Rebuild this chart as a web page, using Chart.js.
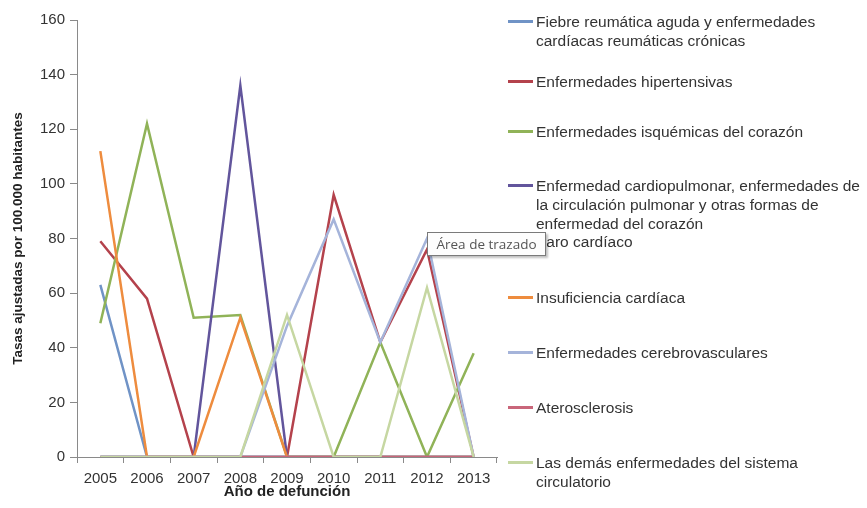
<!DOCTYPE html>
<html>
<head>
<meta charset="utf-8">
<script src="https://cdn.jsdelivr.net/npm/chart.js@4.4.0/dist/chart.umd.min.js"></script>
<style>
  html, body { margin: 0; padding: 0; background: #fff; }
  #wrap { position: relative; width: 867px; height: 508px; overflow: hidden; }
  #chart { position: absolute; left: 0; top: 0; }
  .item { position: absolute; left: 508px; font-family: "Liberation Sans", Arial, sans-serif;
          font-size: 15.5px; line-height: 19px; color: #333; white-space: pre-line; }
  .item .mark { position: absolute; left: 0; top: 8px; width: 25px; height: 3px; }
  .item .txt { margin-left: 28px; }
  #hint { position: absolute; left: 427px; top: 232px; width: 117px; height: 22px;
          border: 1px solid #7a7a7a; background: #fdfdfd; box-shadow: 2px 2px 2px rgba(0,0,0,0.25);
          font-family: "Open Sans", "DejaVu Sans", sans-serif; font-size: 13.5px; color: #555;
          line-height: 22px; text-align: center; }
</style>
</head>
<body>
<div id="wrap">
  <canvas id="chart" width="867" height="508"></canvas>
  <div id="legend"></div>
  <div id="hint">Área de trazado</div>
</div>
<script>
// Años y series (tasas ajustadas por 100.000 habitantes)
const years = ['2005', '2006', '2007', '2008', '2009', '2010', '2011', '2012', '2013'];
const fiebre = [63, 0, 0, 0, 0, 0, 0, 0, 0];
const hipertensivas = [79, 58, 0, 0, 0, 96, 42, 76, 0];
const isquemicas = [49, 122, 51, 52, 0, 0, 42, 0, 38];
const cardiopulmonar = [0, 0, 0, 136, 0, 0, 0, 0, 0];
const paro = [0, 0, 0, 0, 0, 0, 0, 0, 0];
const insuficiencia = [112, 0, 0, 51, 0, 0, 0, 0, 0];
const cerebro = [0, 0, 0, 0, 48, 87, 42, 80, 0];
const ateros = [0, 0, 0, 0, 0, 0, 0, 0, 0];
const demas = [0, 0, 0, 0, 52, 0, 0, 62, 0];
const yTicks = [0, 20, 40, 60, 80, 100, 120, 140, 160];

const seriesNames = [
    'Fiebre reumática aguda y enfermedades\ncardíacas reumáticas crónicas',
    'Enfermedades hipertensivas',
    'Enfermedades isquémicas del corazón',
    'Enfermedad cardiopulmonar, enfermedades de\nla circulación pulmonar y otras formas de\nenfermedad del corazón',
    'Paro cardíaco',
    'Insuficiencia cardíaca',
    'Enfermedades cerebrovasculares',
    'Aterosclerosis',
    'Las demás enfermedades del sistema\ncirculatorio'
];
const seriesData = [fiebre, hipertensivas, isquemicas, cardiopulmonar, paro, insuficiencia, cerebro, ateros, demas];
const colors = ['#7093c6', '#b4424c', '#90b358', '#62559c', '#4bacc6', '#ee8c3e', '#a5b4da', '#c9667a', '#c6d7a2'];
const legendTops = [12, 72, 122, 176, 232, 288, 343, 398, 453];

Chart.defaults.font.family = '"Liberation Sans", Arial, sans-serif';
Chart.defaults.color = '#333';

const axisGrey = '#8a8a8a';

new Chart(document.getElementById('chart'), {
    type: 'line',
    data: {
        labels: years,
        datasets: seriesData.map(function(d, i) {
            return {
                label: seriesNames[i].replace(/\n/g, ' '),
                data: d,
                borderColor: colors[i],
                backgroundColor: colors[i],
                borderWidth: 2.5,
                pointRadius: 0,
                tension: 0,
                order: seriesData.length - i
            };
        })
    },
    options: {
        responsive: false,
        devicePixelRatio: 1,
        animation: false,
        layout: { padding: { top: 20, right: 370, bottom: 0, left: 0 } },
        plugins: { legend: { display: false }, tooltip: { enabled: false } },
        scales: {
            x: {
                offset: true,
                afterFit: function(s) { s.height = 51; },
                grid: { offset: true, drawOnChartArea: false, drawTicks: true, tickLength: 6, color: axisGrey },
                border: { display: true, color: axisGrey, width: 1 },
                ticks: { padding: 7, font: { size: 15 }, color: '#333' },
                title: { display: true, text: 'Año de defunción', font: { size: 15, weight: 'bold' },
                         color: '#222', padding: { top: 0, bottom: 7 } }
            },
            y: {
                min: 0,
                max: 160,
                afterFit: function(s) { s.width = 77; },
                afterBuildTicks: function(s) { s.ticks = yTicks.map(function(v) { return { value: v }; }); },
                grid: { drawOnChartArea: false, drawTicks: true, tickLength: 7, color: axisGrey },
                border: { display: true, color: axisGrey, width: 1 },
                ticks: { padding: 5, font: { size: 15 }, color: '#333' },
                title: { display: true, text: 'Tasas ajustadas por 100.000 habitantes',
                         font: { size: 13.5, weight: 'bold' }, color: '#222', padding: { top: 10, bottom: 0 } }
            }
        }
    }
});

// Leyenda a la derecha
const legend = document.getElementById('legend');
seriesNames.forEach(function(name, i) {
    const el = document.createElement('div');
    el.className = 'item';
    el.style.top = legendTops[i] + 'px';
    el.innerHTML = '<span class="mark" style="background:' + colors[i] + '"></span><div class="txt"></div>';
    el.querySelector('.txt').textContent = name;
    legend.appendChild(el);
});
</script>
</body>
</html>
